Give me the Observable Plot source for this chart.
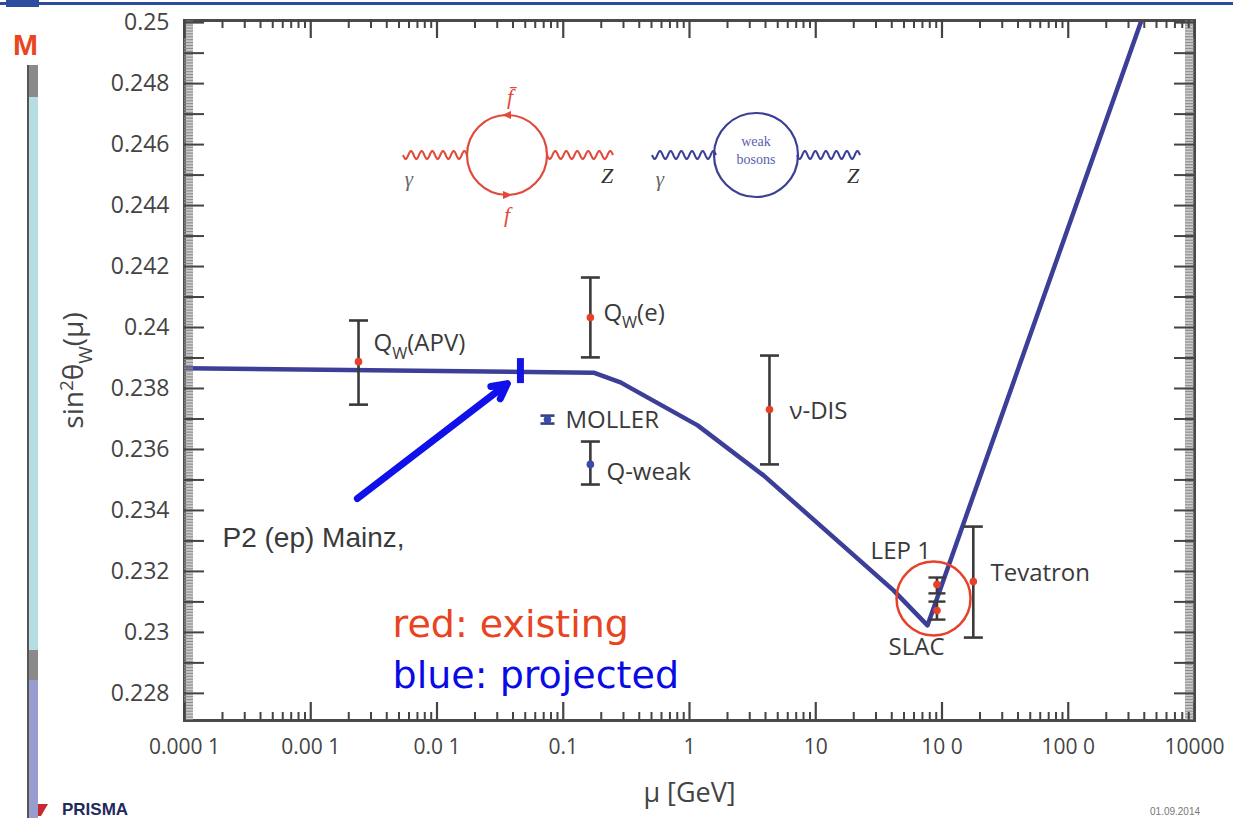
<!DOCTYPE html>
<html><head><meta charset="utf-8">
<script src="https://cdn.jsdelivr.net/npm/d3@7"></script>
<script src="https://cdn.jsdelivr.net/npm/@observablehq/plot@0.6"></script>
<style>
html,body{margin:0;padding:0;background:#fff;width:1233px;height:818px;overflow:hidden;}
#wrap{position:relative;width:1233px;height:818px;overflow:hidden;}
#chart{position:absolute;left:0;top:0;}
.deco{position:absolute;}
</style></head><body><div id="wrap"><div id="chart"></div></div>
<script>
// ---------- data ----------
const xTicks = [1e-4, 1e-3, 1e-2, 1e-1, 1, 10, 100, 1000, 10000];
const xTickLabels = ["0.000 1", "0.00 1", "0.0 1", "0.1", "1", "10", "10 0", "100 0", "10000"];
const yTicks = [0.228, 0.23, 0.232, 0.234, 0.236, 0.238, 0.24, 0.242, 0.244, 0.246, 0.248, 0.25];
const yTickLabels = ["0.228", "0.23", "0.232", "0.234", "0.236", "0.238", "0.24", "0.242", "0.244", "0.246", "0.248", "0.25"];

// running sin^2 theta_W curve
const curveMu = [0.0001, 0.174, 0.284, 1.16, 3.86, 41.3, 76.7, 3800];
const curveS  = [0.23866, 0.23852, 0.23820, 0.23679, 0.23515, 0.23138, 0.23023, 0.25007];

// measurements
const expName   = ["Q_W(APV)", "Q_W(e)", "MOLLER", "Q-weak", "ν-DIS", "LEP 1", "SLAC", "Tevatron"];
const expMu     = [0.00239, 0.164, 0.075, 0.164, 4.3, 91.2, 91.2, 177];
const expS      = [0.23888, 0.24033, 0.23698, 0.23551, 0.23731, 0.23157, 0.23072, 0.23167];
const expLo     = [0.23747, 0.23902, 0.23685, 0.23485, 0.23551, 0.23128, 0.23042, 0.22983];
const expHi     = [0.24023, 0.24164, 0.23711, 0.23626, 0.23908, 0.23180, 0.23101, 0.23347];
const expStatus = ["existing", "existing", "projected", "projected", "existing", "existing", "existing", "existing"];

// P2 projection
const p2Mu = [0.0458];
const p2Lo = [0.23816];
const p2Hi = [0.23898];

// annotation labels
const labelText = ["Q_W(APV)", "Q_W(e)", "MOLLER", "Q-weak", "ν-DIS", "LEP 1", "Tevatron", "SLAC"];
const labelMu   = [0.00314, 0.208, 0.1042, 0.220, 6.19, 27.2, 242, 37.7];
const labelS    = [0.23947, 0.24046, 0.23695, 0.23524, 0.23724, 0.23265, 0.23193, 0.22951];

const p2LabelText = ["P2 (ep) Mainz,"];
const p2LabelMu = [0.0002];
const p2LabelS = [0.23308];

const arrowMu = [0.00234, 0.0361];
const arrowS  = [0.23439, 0.23816];

const legendText = ["red: existing", "blue: projected"];
const legendMu   = [0.00445, 0.00445];
const legendS    = [0.23026, 0.22856];

const circleMu = [85.7];
const circleS  = [0.23111];

// ---------- tables ----------
const curve = curveMu.map((m, i) => ({mu: m, s: curveS[i]}));
const exps = expName.map((n, i) => ({name: n, mu: expMu[i], s: expS[i], lo: expLo[i], hi: expHi[i], status: expStatus[i]}));
const labels = labelText.map((t, i) => ({t, mu: labelMu[i], s: labelS[i]}));
const p2 = p2Mu.map((m, i) => ({mu: m, lo: p2Lo[i], hi: p2Hi[i]}));
const arrow = [{x1: arrowMu[0], y1: arrowS[0], x2: arrowMu[1], y2: arrowS[1]}];
const legend = legendText.map((t, i) => ({t, mu: legendMu[i], s: legendS[i], c: i === 0 ? "#e9431f" : "#0a0ae6"}));
const circ = circleMu.map((m, i) => ({mu: m, s: circleS[i]}));

const xLabelMap = new Map(xTicks.map((d, i) => [d, xTickLabels[i]]));
const yLabelMap = new Map(yTicks.map((d, i) => [d, yTickLabels[i]]));

const xMinor = [];
for (let e = -4; e < 4; e++) for (let k = 2; k <= 9; k++) xMinor.push(k * Math.pow(10, e));
const yMid = d3.range(0, 24).map(i => +(0.227 + i * 0.001).toFixed(3)).filter(v => v >= 0.2272 && v <= 0.2500);
const yFine = d3.range(0, 460).map(i => 0.22715 + i * 0.00005).filter(v => v <= 0.25005);

const capSymbol = {draw(ctx, size) { const r = Math.sqrt(size / Math.PI); ctx.moveTo(-r, 0); ctx.lineTo(r, 0); }};

const lineColor = "#3c3f97";
const red = "#e8412a";
const ink = "#3a3a3a";
const mollerInk = "#34407f";

const capsOf = rows => rows.flatMap(d => [{mu: d.mu, s: d.lo}, {mu: d.mu, s: d.hi}]);
const bigBars = exps.filter(d => d.name !== "MOLLER" && d.name !== "LEP 1" && d.name !== "SLAC");
const lepBars = exps.filter(d => d.name === "LEP 1" || d.name === "SLAC");
const mollerBars = exps.filter(d => d.name === "MOLLER");

// layout
const W = 1233, H = 818, mL = 184, mR = 39, mT = 20, mB = 98;
const iw = W - mL - mR, ih = H - mT - mB;

// inward ticks on all four sides (tick marks trimmed with insets)
const yTicksIn = (vals, len, o) => [
  Plot.tickY(vals, {y: d => d, insetRight: iw - len, ...o}),
  Plot.tickY(vals, {y: d => d, insetLeft: iw - len, ...o})
];
const xTicksIn = (vals, len, o) => [
  Plot.tickX(vals, {x: d => d, insetTop: ih - len, ...o}),
  Plot.tickX(vals, {x: d => d, insetBottom: ih - len, ...o})
];

const chart = Plot.plot({
  width: W, height: H,
  marginLeft: mL, marginRight: mR, marginTop: mT, marginBottom: mB,
  x: {type: "log", domain: [1e-4, 1e4]},
  y: {domain: [0.22711, 0.25007]},
  style: {fontFamily: "'Open Sans', sans-serif", background: "white", color: "#444"},
  marks: [
    // tick labels
    Plot.axisX(xTicks, {anchor: "bottom", tickSize: 0, tickPadding: 19, tickFormat: d => xLabelMap.get(d), fontSize: 21, fill: "#444", label: null}),
    Plot.axisY(yTicks, {anchor: "left", tickSize: 0, tickPadding: 15, tickFormat: d => yLabelMap.get(d), fontSize: 23, fill: "#444", label: null}),
    // axis titles
    Plot.text(["μ [GeV]"], {frameAnchor: "bottom", lineAnchor: "middle", textAnchor: "middle", dy: 73, fontSize: 27, fill: "#444"}),
    Plot.text(["sin^2θ_W(μ)"], {frameAnchor: "left", textAnchor: "middle", lineAnchor: "middle", dx: -110, rotate: -90, fontSize: 28, fill: "#444"}),
    // curve
    Plot.line(curve, {x: "mu", y: "s", stroke: lineColor, strokeWidth: 4.5, clip: true}),
    // highlight circle
    Plot.dot(circ, {x: "mu", y: "s", r: 37, stroke: red, strokeWidth: 2.5, fill: "none"}),
    // error bars
    Plot.ruleX(bigBars.concat(lepBars), {x: "mu", y1: "lo", y2: "hi", stroke: ink, strokeWidth: 2.6}),
    Plot.ruleX(mollerBars, {x: "mu", y1: "lo", y2: "hi", stroke: mollerInk, strokeWidth: 2.6}),
    Plot.dot(capsOf(bigBars), {x: "mu", y: "s", symbol: capSymbol, r: 9.5, stroke: ink, strokeWidth: 2.6, fill: "none"}),
    Plot.dot(capsOf(lepBars), {x: "mu", y: "s", symbol: capSymbol, r: 8.5, stroke: ink, strokeWidth: 2.4, fill: "none"}),
    Plot.dot(capsOf(mollerBars), {x: "mu", y: "s", symbol: capSymbol, r: 7, stroke: mollerInk, strokeWidth: 2.6, fill: "none"}),
    Plot.dot(exps, {x: "mu", y: "s", r: 3.8, fill: d => d.status === "existing" ? red : "#3a4aa8", stroke: "none"}),
    // P2 projection
    Plot.ruleX(p2, {x: "mu", y1: "lo", y2: "hi", stroke: "#1414e0", strokeWidth: 7}),
    Plot.arrow(arrow, {x1: "x1", y1: "y1", x2: "x2", y2: "y2", stroke: "#1010ea", strokeWidth: 7, headLength: 3.6, headAngle: 55}),
    // labels
    Plot.text(labels, {x: "mu", y: "s", text: "t", textAnchor: "start", fontSize: 24, fill: "#3a3a3a"}),
    Plot.text(p2LabelText.map((t, i) => ({t, mu: p2LabelMu[i], s: p2LabelS[i]})), {x: "mu", y: "s", text: "t", textAnchor: "start", fontSize: 28, fill: "#3a3a3a", fontFamily: "'Liberation Sans', Arial, sans-serif"}),
    Plot.text(legend, {x: "mu", y: "s", text: "t", textAnchor: "start", fontSize: 38, fill: "c", fontFamily: "'DejaVu Sans', sans-serif"}),
    // frame and inward ticks, drawn last
    Plot.frame({stroke: "#4a4a4a", strokeWidth: 3}),
    ...yTicksIn(yFine, 9, {stroke: "#8a8a8a", strokeWidth: 1}),
    ...yTicksIn(yMid, 20, {stroke: "#444", strokeWidth: 2}),
    ...xTicksIn(xMinor, 8, {stroke: "#444", strokeWidth: 2}),
    ...xTicksIn(xTicks, 18, {stroke: "#444", strokeWidth: 2.2})
  ]
});
document.getElementById("chart").append(chart);

// sub/superscript rendering (e.g. Q_W, sin^2)
function rich(el) {
  const t = el.textContent;
  if (!/[_^]/.test(t)) return;
  const fs = parseFloat(getComputedStyle(el).fontSize) || 20;
  const NS = "http://www.w3.org/2000/svg";
  while (el.firstChild) el.removeChild(el.firstChild);
  let cur = 0;
  const add = (txt, shift, small) => {
    const s = document.createElementNS(NS, "tspan");
    s.textContent = txt;
    const dy = shift - cur;
    if (dy) s.setAttribute("dy", dy);
    if (small) s.setAttribute("font-size", (fs * 0.68).toFixed(1));
    cur = shift;
    el.appendChild(s);
  };
  let buf = "";
  for (let i = 0; i < t.length; i++) {
    const c = t[i];
    if ((c === "_" || c === "^") && i + 1 < t.length) {
      if (buf) { add(buf, 0, false); buf = ""; }
      add(t[i + 1], c === "_" ? fs * 0.3 : -fs * 0.38, true);
      i++;
    } else buf += c;
  }
  if (buf) add(buf, 0, false);
}
d3.select(chart).selectAll("text").each(function() { rich(this); });

// ---------- Feynman diagrams and slide decoration ----------
function wavy(x0, x1, y, n, a) {
  const pts = d3.range(0, 121).map(i => { const t = i / 120; return [x0 + (x1 - x0) * t, y + a * Math.sin(t * n * 2 * Math.PI)]; });
  return d3.line()(pts);
}
const deco = d3.select("#wrap").append("svg").attr("class", "deco").attr("width", 1233).attr("height", 818)
  .style("left", "0px").style("top", "0px").style("pointer-events", "none");
const fr = "#e2483b", fb = "#3b3f98";
deco.append("path").attr("d", wavy(403, 467, 155, 6, 4)).attr("fill", "none").attr("stroke", fr).attr("stroke-width", 2);
deco.append("path").attr("d", wavy(547, 613, 155, 6, 4)).attr("fill", "none").attr("stroke", fr).attr("stroke-width", 2);
deco.append("circle").attr("cx", 507).attr("cy", 155).attr("r", 40).attr("fill", "none").attr("stroke", fr).attr("stroke-width", 2.2);
deco.append("path").attr("d", "M502,115L511,111L511,119Z").attr("fill", fr);
deco.append("path").attr("d", "M512,195L503,191L503,199Z").attr("fill", fr);
const serif = "'Liberation Serif', 'DejaVu Serif', serif";
deco.append("text").attr("x", 510).attr("y", 104).attr("text-anchor", "middle").attr("font-family", serif).attr("font-style", "italic").attr("font-size", 22).attr("fill", fr).text("f̄");
deco.append("text").attr("x", 507).attr("y", 222).attr("text-anchor", "middle").attr("font-family", serif).attr("font-style", "italic").attr("font-size", 22).attr("fill", fr).text("f");
deco.append("text").attr("x", 409).attr("y", 186).attr("text-anchor", "middle").attr("font-family", serif).attr("font-style", "italic").attr("font-size", 21).attr("fill", "#666").text("γ");
deco.append("text").attr("x", 607).attr("y", 183).attr("text-anchor", "middle").attr("font-family", serif).attr("font-style", "italic").attr("font-size", 22).attr("fill", "#333").text("Z");
deco.append("path").attr("d", wavy(652, 716, 155, 6, 4)).attr("fill", "none").attr("stroke", fb).attr("stroke-width", 2);
deco.append("path").attr("d", wavy(797, 860, 155, 6, 4)).attr("fill", "none").attr("stroke", fb).attr("stroke-width", 2);
deco.append("circle").attr("cx", 756).attr("cy", 155).attr("r", 42).attr("fill", "none").attr("stroke", fb).attr("stroke-width", 2.2);
deco.append("text").attr("x", 756).attr("y", 146).attr("text-anchor", "middle").attr("font-family", serif).attr("font-size", 14).attr("fill", "#5a5fb0").text("weak");
deco.append("text").attr("x", 756).attr("y", 164).attr("text-anchor", "middle").attr("font-family", serif).attr("font-size", 14).attr("fill", "#5a5fb0").text("bosons");
deco.append("text").attr("x", 660).attr("y", 186).attr("text-anchor", "middle").attr("font-family", serif).attr("font-style", "italic").attr("font-size", 21).attr("fill", "#666").text("γ");
deco.append("text").attr("x", 853).attr("y", 183).attr("text-anchor", "middle").attr("font-family", serif).attr("font-style", "italic").attr("font-size", 22).attr("fill", "#333").text("Z");

// slide frame pieces
deco.append("rect").attr("x", 0).attr("y", 2).attr("width", 1233).attr("height", 3).attr("fill", "#2d4c9e");
deco.append("rect").attr("x", 6).attr("y", 0).attr("width", 33).attr("height", 7).attr("fill", "#2d4c9e");
deco.append("rect").attr("x", 28).attr("y", 65).attr("width", 10).attr("height", 32).attr("fill", "#8a8a8a");
deco.append("rect").attr("x", 28).attr("y", 97).attr("width", 10).attr("height", 553).attr("fill", "#b6dde0");
deco.append("rect").attr("x", 28).attr("y", 650).attr("width", 10).attr("height", 30).attr("fill", "#8a8a8a");
deco.append("rect").attr("x", 28).attr("y", 680).attr("width", 10).attr("height", 138).attr("fill", "#979dcf");
deco.append("rect").attr("x", 27).attr("y", 65).attr("width", 2).attr("height", 753).attr("fill", "#555");
const clip = deco.append("clipPath").attr("id", "mclip");
clip.append("rect").attr("x", 0).attr("y", 0).attr("width", 38).attr("height", 80);
deco.append("text").attr("x", 13).attr("y", 55).attr("clip-path", "url(#mclip)").attr("font-family", "'Liberation Sans', Arial, sans-serif").attr("font-weight", "bold").attr("font-size", 30).attr("fill", "#e8461e").text("M");
deco.append("path").attr("d", "M38,804L48,804L41,816L38,816Z").attr("fill", "#c62a30");
deco.append("text").attr("x", 62).attr("y", 815).attr("font-family", "'Liberation Sans', Arial, sans-serif").attr("font-weight", "bold").attr("font-size", 17).attr("fill", "#1f2a5c").text("PRISMA");
deco.append("text").attr("x", 1150).attr("y", 815).attr("font-family", "'Liberation Sans', Arial, sans-serif").attr("font-size", 10).attr("fill", "#777").text("01.09.2014");
</script></body></html>
